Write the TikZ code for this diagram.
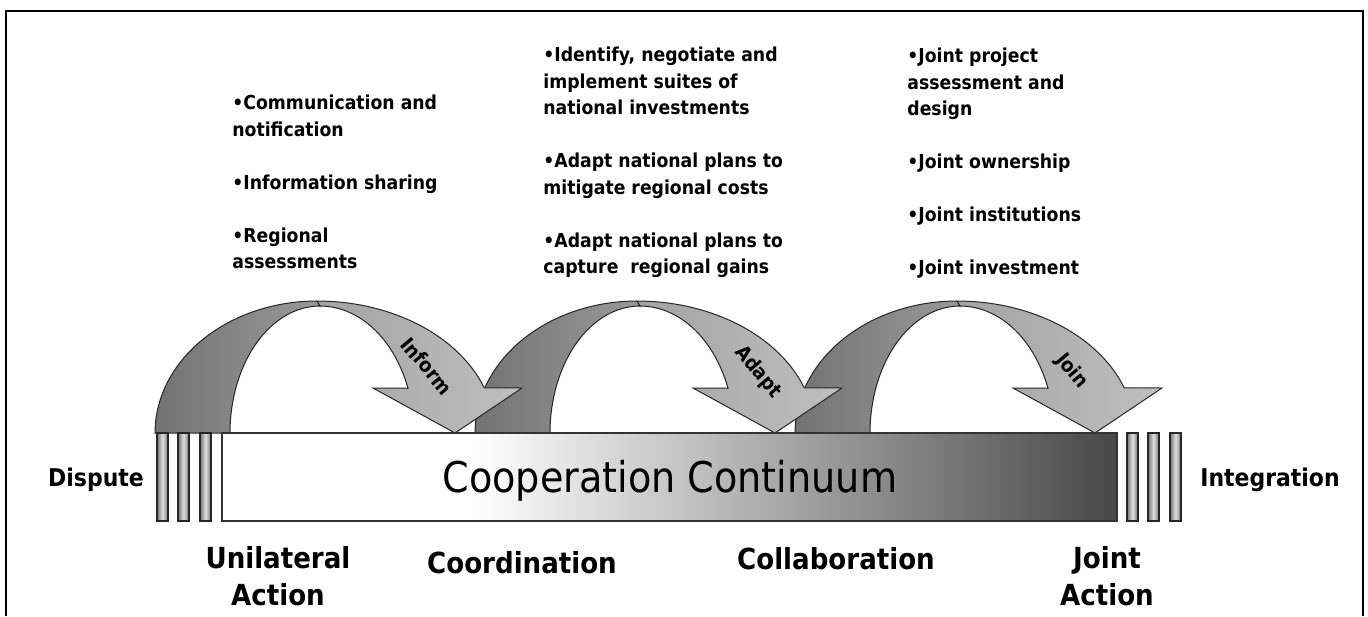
\documentclass[tikz,border=0pt]{standalone}
\usepackage{fontspec}
\setmainfont{DejaVu Sans Condensed}
\usetikzlibrary{positioning}
% white on the left, darker towards Joint Action
\pgfdeclarehorizontalshading{continuum}{100bp}{color(0bp)=(white); color(39bp)=(white); color(75bp)=(black!72); color(100bp)=(black!72)}

\begin{document}
\begin{tikzpicture}[x=0.5pt,y=-0.5pt,
    bullets/.style={font=\bfseries\fontsize{9.6}{13.25}\selectfont, align=left, anchor=north west, inner sep=0pt},
    stage/.style={font=\bfseries\fontsize{14.5}{18.5}\selectfont, align=center, inner sep=0pt},
    pole/.style={font=\bfseries\fontsize{12.2}{14}\selectfont, inner sep=0pt},
    verb/.style={font=\bfseries\fontsize{10}{12}\selectfont, rotate=-50, inner sep=0pt},
    stripe/.style={draw=black!85, line width=0.6pt, left color=black!55, right color=black!55, middle color=black!12},
    backleg/.style={draw=black!85, line width=0.5pt, left color=black!55, right color=black!40},
    frontleg/.style={draw=black!85, line width=0.5pt, left color=black!36, right color=black!25}]

  \useasboundingbox (0,0) rectangle (1368,616);
  \draw[line width=1pt] (6,616) -- (6,11) -- (1363,11) -- (1363,616);

  % the three arches, drawn right to left so each head lies on the next leg
  \foreach \dx/\verbtxt/\vx/\vy in {640/Join/432/371, 320/Adapt/438/372, 0/Inform/427/366}{
    \begin{scope}[shift={(\dx,0)}]
      \path[backleg] plot[domain=180:270, samples=40] ({317+162*cos(\x)},{433+132*sin(\x)})
        -- plot[domain=270:180, samples=40] ({320+90*cos(\x)},{433+127*sin(\x)}) -- cycle;
      \path[frontleg] plot[domain=270:340, samples=30] ({317+178*cos(\x)},{433+132*sin(\x)})
        -- (522,388) -- (455,433) -- (373,388) -- (408,388)
        -- plot[domain=339.3:270, samples=30] ({320+94*cos(\x)},{433+127*sin(\x)}) -- cycle;
      \node[verb] (verb\dx) at (\vx,\vy) {\verbtxt};
    \end{scope}
  }

  % the continuum bar and its end stripes
  \path[shading=continuum, draw=black!80, line width=1.2pt] (222,433) rectangle (1117,521);
  \node[font=\fontsize{21.2}{24}\selectfont] (continuum) at (670,481) {Cooperation Continuum};
  \foreach \sx in {157,178,200,1127,1148,1170}
    \path[stripe] (\sx,433) rectangle +(11,88);

  \node[pole] (dispute) at (96,480) {Dispute};
  \node[pole] (integration) at (1270,480) {Integration};

  \node[stage] (unilateral) at (278,576) {Unilateral\\Action};
  \node[stage] (coordination) at (522,563) {Coordination};
  \node[stage] (collaboration) at (836,559) {Collaboration};
  \node[stage] (joint) at (1107,576) {Joint\\Action};

  \node[bullets] (informlist) at (232,95) {•Communication and\\notification\\[13.25pt]
    •Information sharing\\[13.25pt]•Regional\\assessments};
  \node[bullets] (adaptlist) at (543,47) {•Identify, negotiate and\\implement suites of\\national investments\\[13.25pt]
    •Adapt national plans to\\mitigate regional costs\\[13.25pt]•Adapt national plans to\\capture\ \ regional gains};
  \node[bullets] (joinlist) at (907,48) {•Joint project\\assessment and\\design\\[13.25pt]
    •Joint ownership\\[13.25pt]•Joint institutions\\[13.25pt]•Joint investment};
\end{tikzpicture}
\end{document}
